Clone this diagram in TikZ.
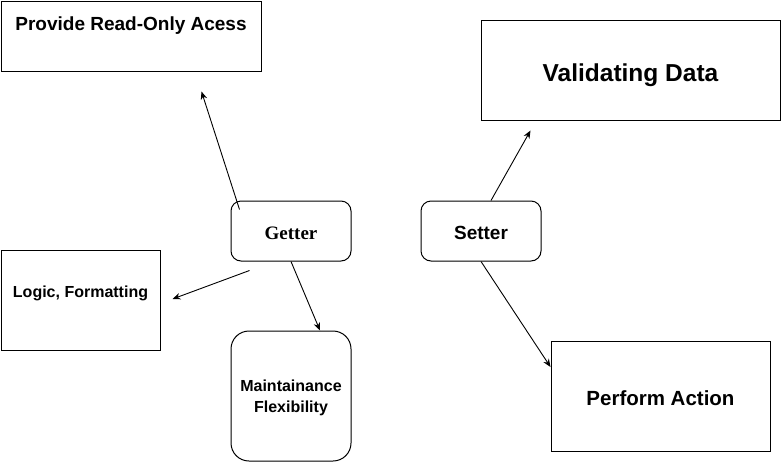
\documentclass[tikz,border=0pt]{standalone}
\usepackage{fontspec}
\setmainfont{Liberation Sans}
\newfontfamily\serifbf{Liberation Serif}
\usetikzlibrary{arrows.meta, positioning, calc}
\tikzset{
  every picture/.style={x=1pt, y=-1pt, line width=1pt},
  box/.style={draw=black, fill=white, rectangle, align=center, inner sep=0pt},
  rbox/.style={box, rounded corners=#1},
  rbox/.default=10pt,
  lbl/.style={font=\bfseries\fontsize{#1}{#1}\selectfont, text height=#1*0.72pt+4pt, text depth=0pt},
  arrow/.style={-{Stealth[length=8pt, width=6.5pt]}, draw=black, line width=0.9pt},
}
\begin{document}
\begin{tikzpicture}
  \useasboundingbox (0,0) rectangle (781,461);
  % getter side
  \node[box, anchor=north west, minimum width=260pt, minimum height=70pt] (provide) at (0.5,0.5) {};
  \node[lbl=19, inner sep=0pt] (providetxt) at ($(provide.north)+(0,21)$) {Provide Read-Only Acess};
  \node[rbox, minimum width=120pt, minimum height=60pt, lbl=19,
        font=\serifbf\bfseries\fontsize{19}{19}\selectfont] (getter) at (291,231) {Getter};
  \node[box, minimum width=159pt, minimum height=100pt, lbl=16, text depth=20pt] (logic) at (80.5,300) {Logic, Formatting};
  \node[rbox=18pt, minimum width=120pt, minimum height=130pt, text depth=0pt,
        font=\bfseries\fontsize{16}{21}\selectfont] (maintain) at (291,396) {Maintainance\\Flexibility};
  % setter side
  \node[rbox, minimum width=120pt, minimum height=60pt, lbl=19] (setter) at (481,231) {Setter};
  \node[box, minimum width=299pt, minimum height=100pt, lbl=24.5, text height=23pt] (validating) at (630.5,70) {Validating Data};
  \node[box, minimum width=219pt, minimum height=110pt, lbl=20.5] (perform) at (660.5,396) {Perform Action};
  % arrows
  \draw[arrow] ($(getter.north west)+(9,9)$) -- ($(provide.south west)+(201,20)$);
  \draw[arrow] ($(getter.south west)+(19,9)$) -- ($(logic.east)+(12,-1)$);
  \draw[arrow] (getter.south) -- ($(maintain.north)+(29,0)$);
  \draw[arrow] ($(setter.north)+(10,0)$) -- ($(validating.south west)+(50,10)$);
  \draw[arrow] (setter.south) -- ($(perform.west)+(0,-29)$);
\end{tikzpicture}
\end{document}
